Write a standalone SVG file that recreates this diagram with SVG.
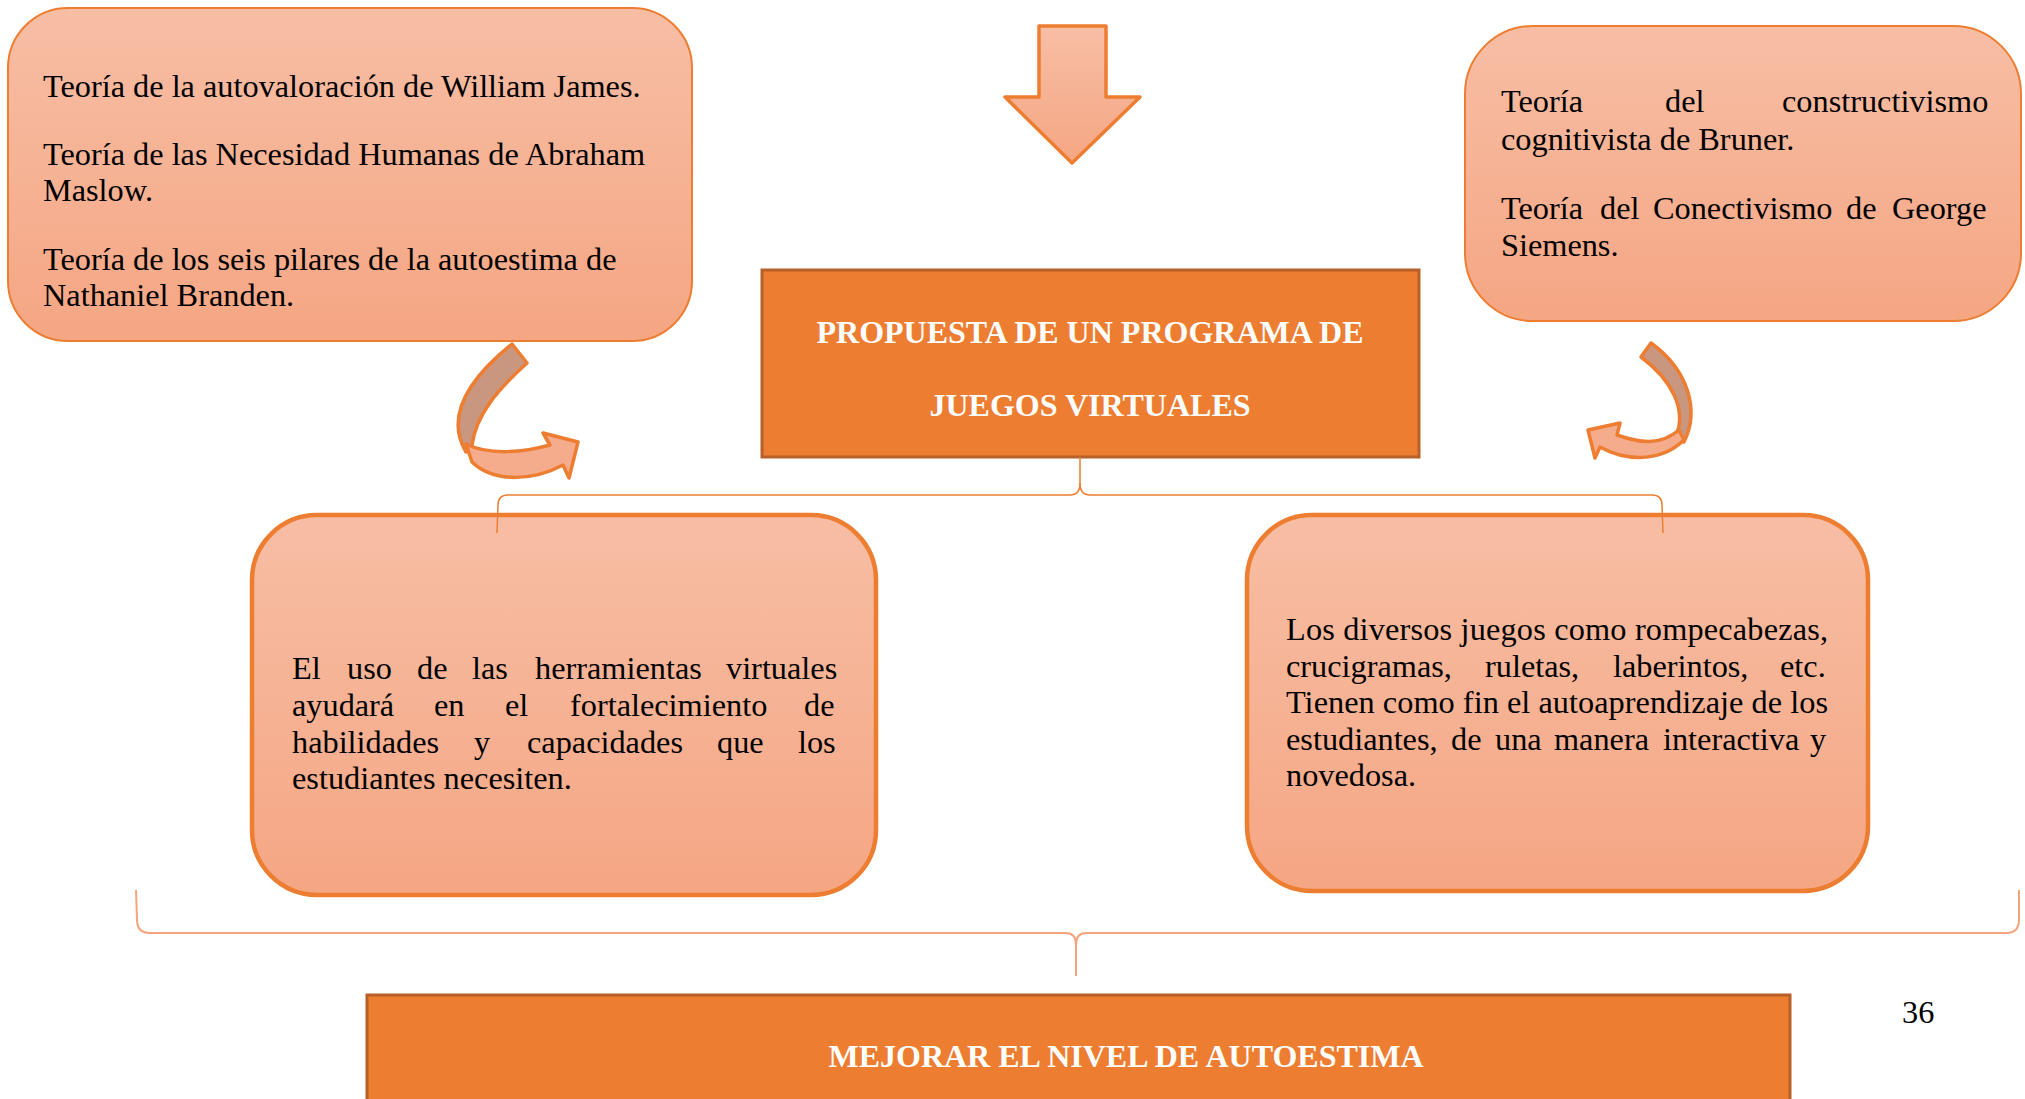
<svg xmlns="http://www.w3.org/2000/svg" width="2025" height="1099" viewBox="0 0 2025 1099">
<defs>
<linearGradient id="g" x1="0" y1="0" x2="0" y2="1">
<stop offset="0" stop-color="#F7BEA5"/>
<stop offset="1" stop-color="#F5A683"/>
</linearGradient>
<style>
.rb{fill:url(#g);stroke:#ED7D31}
.t{font-family:"Liberation Serif","Times New Roman",serif;font-size:32.3px;fill:#000}
.h{font-family:"Liberation Serif","Times New Roman",serif;font-size:32px;font-weight:bold;fill:#fff;text-anchor:middle}
.dk{fill:#ED7D31;stroke:#B8602A;stroke-width:3}
.ar{stroke:#ED7D31;stroke-width:3.5;stroke-linejoin:round}
.br{fill:none;stroke:#ED7D31;stroke-width:1.5}
.br2{fill:none;stroke:#F4A47C;stroke-width:2}
</style>
</defs>
<rect width="2025" height="1099" fill="#fff"/>

<g id="teorias-izq">
<rect class="rb" x="8" y="8" width="684" height="333" rx="60" stroke-width="2"/>
<text class="t" x="43" y="97">Teoría de la autovaloración de William James.</text>
<text class="t" x="43" y="165">Teoría de las Necesidad Humanas de Abraham</text>
<text class="t" x="43" y="201">Maslow.</text>
<text class="t" x="43" y="270">Teoría de los seis pilares de la autoestima de</text>
<text class="t" x="43" y="306">Nathaniel Branden.</text>
</g>

<g id="flecha-abajo">
<polygon class="ar" fill="url(#g)" stroke-width="3" points="1039,26 1106,26 1106,97 1140,97 1072,163 1005,97 1039,97"/>
</g>

<g id="teorias-der">
<rect class="rb" x="1465" y="26" width="556" height="295" rx="68" stroke-width="2"/>
<text class="t" y="112"><tspan x="1501">Teoría</tspan><tspan x="1665">del</tspan><tspan x="1782">constructivismo</tspan></text>
<text class="t" x="1501" y="150">cognitivista de Bruner.</text>
<text class="t" y="219"><tspan x="1501">Teoría</tspan><tspan x="1600">del</tspan><tspan x="1653">Conectivismo</tspan><tspan x="1846">de</tspan><tspan x="1892">George</tspan></text>
<text class="t" x="1501" y="256">Siemens.</text>
</g>

<g id="propuesta">
<rect class="dk" x="762" y="270" width="657" height="187"/>
<text class="h" x="1090" y="343">PROPUESTA DE UN PROGRAMA DE</text>
<text class="h" x="1090" y="416">JUEGOS VIRTUALES</text>
</g>

<g id="flecha-curva-izq">
<path class="ar" fill="#C9977F" d="M512,344 L527,363 C497,390 476,415 472,445 L466,452 C450,425 455,390 512,344 Z"/>
<path class="ar" fill="#F5AC8C" d="M466,444 C490,456 525,452 550,445 L543,433 L578,442 L569,478 L563,465 C535,480 495,484 472,462 Z"/>
</g>

<g id="flecha-curva-der">
<path class="ar" fill="#C9977F" d="M1651,343 C1688,370 1700,410 1684,442 L1676,436 C1687,410 1672,380 1641,357 Z"/>
<path class="ar" fill="#F5AC8C" d="M1679,430 C1660,446 1640,443 1617,435 L1620,423 L1588,430 L1595,458 L1600,447 C1625,461 1660,463 1684,440 Z"/>
</g>

<g id="herramientas">
<rect class="rb" x="252" y="515" width="624" height="380" rx="65" stroke-width="4.5"/>
<text class="t" y="679"><tspan x="292">El</tspan><tspan x="347">uso</tspan><tspan x="417">de</tspan><tspan x="472">las</tspan><tspan x="535">herramientas</tspan><tspan x="726">virtuales</tspan></text>
<text class="t" y="716"><tspan x="292">ayudará</tspan><tspan x="434">en</tspan><tspan x="505">el</tspan><tspan x="570">fortalecimiento</tspan><tspan x="804">de</tspan></text>
<text class="t" y="753"><tspan x="292">habilidades</tspan><tspan x="474">y</tspan><tspan x="527">capacidades</tspan><tspan x="717">que</tspan><tspan x="798">los</tspan></text>
<text class="t" x="292" y="789">estudiantes necesiten.</text>
</g>

<g id="juegos">
<rect class="rb" x="1247" y="515" width="621" height="376" rx="65" stroke-width="4.5"/>
<text class="t" x="1286" y="640" textLength="542" lengthAdjust="spacing">Los diversos juegos como rompecabezas,</text>
<text class="t" y="677"><tspan x="1286">crucigramas,</tspan><tspan x="1485">ruletas,</tspan><tspan x="1613">laberintos,</tspan><tspan x="1780">etc.</tspan></text>
<text class="t" x="1286" y="713" textLength="542" lengthAdjust="spacing">Tienen como fin el autoaprendizaje de los</text>
<text class="t" y="750"><tspan x="1286">estudiantes,</tspan><tspan x="1451">de</tspan><tspan x="1495">una</tspan><tspan x="1554">manera</tspan><tspan x="1663">interactiva</tspan><tspan x="1810">y</tspan></text>
<text class="t" x="1286" y="786">novedosa.</text>
</g>

<g id="mejorar">
<rect class="dk" x="367" y="995" width="1423" height="130"/>
<text class="h" x="1126" y="1067">MEJORAR EL NIVEL DE AUTOESTIMA</text>
</g>

<g id="pagina">
<text class="t" x="1902" y="1023">36</text>
</g>

<g id="conectores">
<path class="br" d="M1080,457 L1080,483 Q1080,495 1070,495 L508,495 Q498,495 498,505 L497,533"/>
<path class="br" d="M1080,483 Q1080,495 1090,495 L1652,495 Q1662,495 1662,505 L1663,533"/>
<path class="br2" d="M1076,976 L1076,945 Q1076,933 1066,933 L150,933 Q137,933 137,920 L136,890"/>
<path class="br2" d="M1076,945 Q1076,933 1086,933 L2006,933 Q2019,933 2019,920 L2019,890"/>
</g>
</svg>
